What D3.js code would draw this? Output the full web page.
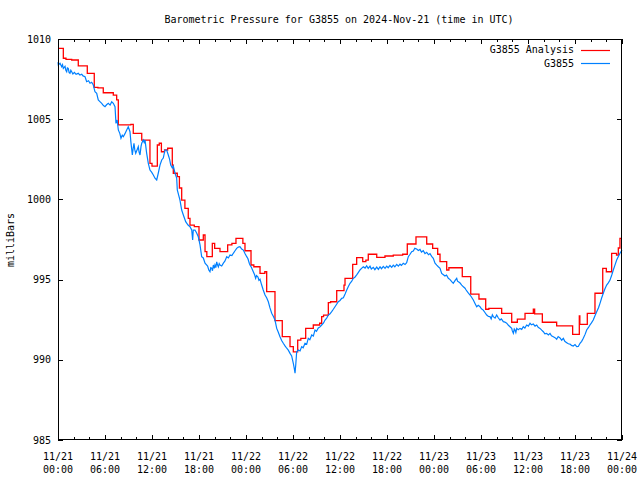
<!DOCTYPE html>
<html><head><meta charset="utf-8">
<script src="https://cdn.jsdelivr.net/npm/d3@7"></script>
<style>
body{margin:0;background:#fff}
text{font-family:"DejaVu Sans Mono",monospace;font-size:10px;fill:#000}
</style>
</head><body><svg id="c" width="640" height="480"></svg>
<script>
const chartTitle = "Barometric Pressure for G3855 on 2024-Nov-21 (time in UTC)";
const yAxisLabel = "milliBars";
const seriesNames = ["G3855 Analysis", "G3855"];
const seriesColors = ["#ff0000", "#0080ff"];
const xTickHours = [0, 6, 12, 18, 24, 30, 36, 42, 48, 54, 60, 66, 72];
const xTickDates = ["11/21","11/21","11/21","11/21","11/22","11/22","11/22","11/22","11/23","11/23","11/23","11/23","11/24"];
const xTickTimes = ["00:00","06:00","12:00","18:00","00:00","06:00","12:00","18:00","00:00","06:00","12:00","18:00","00:00"];
const xMinorHours = d3.range(0, 73, 2);
const yTicks = [985, 990, 995, 1000, 1005, 1010];

// hours since 11/21 00:00 UTC, pressure (mb)
const analysis = [[0,1009.42],[0.68,1008.80],[1.02,1008.73],[1.75,1008.69],[2.59,1008.32],[3.74,1007.86],[4.63,1006.99],[5.1,1006.95],[5.78,1006.65],[7.06,1006.50],[7.49,1006.20],[7.70,1004.64],[9.3,1004.68],[9.61,1004.12],[10.69,1003.70],[11.74,1002.25],[12.0,1002.08],[12.68,1003.39],[12.93,1003.50],[13.2,1002.97],[13.6,1003.08],[14.0,1003.19],[14.59,1002.14],[14.72,1001.63],[15.23,1001.42],[15.5,1000.71],[15.79,999.96],[16.2,999.44],[16.63,998.82],[16.85,998.40],[17.4,998.30],[18.0,997.47],[18.55,997.78],[18.77,996.74],[19.0,996.43],[19.7,997.26],[20.0,996.95],[20.68,996.74],[21.66,997.16],[22.2,997.26],[22.72,997.57],[23.6,997.26],[23.87,996.80],[24.64,995.91],[25.0,995.80],[25.79,995.39],[26.4,995.49],[26.64,994.25],[27.7,992.44],[28.63,991.44],[29.62,990.82],[30.04,990.50],[30.6,991.23],[31.0,991.34],[31.62,991.96],[32.59,992.17],[33.4,992.28],[33.66,992.69],[33.9,992.79],[34.51,993.56],[34.8,993.62],[35.58,994.31],[36.51,994.66],[36.64,995.08],[37.62,995.95],[38.13,996.37],[38.9,996.12],[39.3,996.22],[39.61,996.58],[40.69,996.39],[41.74,996.47],[42.8,996.53],[44.0,996.58],[44.59,997.22],[45.7,997.66],[47.07,997.22],[47.83,996.95],[48.47,996.58],[48.77,996.12],[49.62,995.60],[49.9,995.74],[51.61,995.18],[52.69,994.10],[53.74,993.79],[54.6,993.15],[55.0,993.21],[56.64,992.90],[57.92,992.34],[58.64,992.54],[59.62,992.90],[60.68,993.15],[60.85,992.86],[61.83,992.34],[63.66,992.11],[65.7,991.59],[66.55,992.73],[66.62,992.21],[67.57,992.90],[68.55,994.15],[69.54,995.70],[70.0,995.49],[70.68,996.64],[71.3,996.53],[71.53,996.97],[71.74,997.57],[72,997.57]];

const observed = [[0,1008.55],[0.04,1008.38],[0.26,1008.49],[0.47,1008.27],[0.58,1008.40],[0.68,1008.17],[0.9,1008.3],[1.0,1008.05],[1.11,1007.96],[1.2,1008.20],[1.31,1008.17],[1.42,1007.90],[1.53,1007.86],[1.64,1008.05],[1.75,1007.96],[1.9,1007.82],[2.1,1007.92],[2.3,1007.80],[2.59,1007.86],[2.8,1007.75],[3.03,1007.80],[3.2,1007.70],[3.45,1007.65],[3.66,1007.34],[3.9,1007.40],[4.09,1007.24],[4.3,1007.30],[4.51,1007.13],[4.72,1006.71],[4.94,1006.61],[5.14,1006.20],[5.35,1006.10],[5.58,1005.99],[5.8,1005.85],[6.0,1005.78],[6.2,1005.90],[6.42,1005.99],[6.65,1005.88],[6.86,1006.09],[7.06,1005.99],[7.28,1005.78],[7.40,1004.74],[7.55,1004.95],[7.70,1004.33],[7.9,1004.10],[8.04,1003.81],[8.2,1004.00],[8.34,1003.91],[8.55,1004.10],[8.77,1004.33],[8.97,1004.53],[9.19,1004.22],[9.3,1003.60],[9.49,1002.77],[9.6,1003.20],[9.70,1003.50],[9.8,1003.10],[9.92,1002.87],[10.1,1003.10],[10.25,1003.29],[10.35,1002.95],[10.47,1002.77],[10.6,1003.30],[10.69,1003.50],[10.89,1003.70],[11.0,1003.55],[11.11,1003.70],[11.32,1002.87],[11.53,1002.25],[11.74,1001.83],[11.95,1001.70],[12.17,1001.52],[12.38,1001.32],[12.6,1001.21],[12.8,1001.63],[13.02,1002.14],[13.24,1002.46],[13.44,1002.58],[13.66,1003.08],[13.87,1003.08],[14.08,1002.77],[14.25,1002.50],[14.39,1002.14],[14.59,1001.96],[14.72,1002.08],[14.94,1001.63],[15.15,1001.33],[15.23,1000.59],[15.57,999.96],[15.79,999.34],[16.0,999.03],[16.3,998.61],[16.6,998.40],[16.85,998.30],[17.07,998.09],[17.19,997.47],[17.27,998.09],[17.49,998.09],[17.7,997.91],[17.91,997.67],[18.13,997.16],[18.34,996.43],[18.55,996.35],[18.77,996.02],[19.1,995.85],[19.25,995.60],[19.4,995.49],[19.5,995.75],[19.62,995.72],[19.72,995.55],[19.83,995.91],[19.95,995.70],[20.04,995.91],[20.15,995.75],[20.26,996.10],[20.37,995.90],[20.47,995.79],[20.58,996.00],[20.68,995.91],[20.9,995.85],[21.11,996.03],[21.3,996.15],[21.54,996.43],[21.75,996.35],[21.96,996.53],[22.2,996.50],[22.38,996.64],[22.6,996.80],[22.81,996.95],[23.02,997.03],[23.23,997.05],[23.45,996.90],[23.66,996.84],[23.9,996.60],[24.09,996.43],[24.25,996.30],[24.42,996.02],[24.51,995.91],[24.7,995.75],[24.93,995.49],[25.1,995.30],[25.23,995.08],[25.35,995.25],[25.53,995.16],[25.65,994.95],[25.79,995.02],[26.0,994.66],[26.2,994.35],[26.43,994.04],[26.65,993.85],[26.85,993.62],[27.05,993.25],[27.28,992.90],[27.5,992.70],[27.7,992.48],[27.92,991.96],[28.1,991.75],[28.34,991.44],[28.55,991.20],[28.76,991.03],[29.0,990.85],[29.2,990.72],[29.4,990.60],[29.62,990.40],[29.83,990.24],[30.04,989.78],[30.15,989.50],[30.26,989.16],[30.35,989.68],[30.47,990.50],[30.68,990.61],[30.9,990.55],[31.11,990.82],[31.3,990.75],[31.53,991.03],[31.75,990.98],[31.95,991.34],[32.15,991.25],[32.39,991.55],[32.6,991.48],[32.81,991.86],[33.0,991.78],[33.23,991.98],[33.45,992.05],[33.66,992.17],[33.9,992.30],[34.09,992.48],[34.3,992.60],[34.51,992.79],[34.7,992.85],[34.94,993.0],[35.15,993.15],[35.36,993.31],[35.55,993.45],[35.78,993.62],[36.0,993.70],[36.22,993.83],[36.43,993.87],[36.65,994.10],[36.86,994.35],[37.05,994.55],[37.28,994.77],[37.5,994.90],[37.7,995.08],[37.9,995.15],[38.13,995.29],[38.35,995.45],[38.55,995.60],[38.75,995.70],[38.98,995.80],[39.2,995.72],[39.4,995.86],[39.6,995.70],[39.83,995.84],[40.0,995.66],[40.25,995.76],[40.45,995.62],[40.69,995.78],[40.9,995.64],[41.11,995.80],[41.3,995.68],[41.53,995.82],[41.75,995.70],[41.96,995.84],[42.15,995.74],[42.38,995.88],[42.6,995.76],[42.8,995.90],[43.0,995.80],[43.24,995.95],[43.45,995.84],[43.66,995.96],[43.85,995.88],[44.08,996.02],[44.3,995.94],[44.51,996.06],[44.72,996.43],[44.9,996.55],[45.15,996.74],[45.36,996.78],[45.55,996.95],[45.79,996.91],[46.0,996.82],[46.21,996.88],[46.4,996.72],[46.63,996.80],[46.85,996.62],[47.07,996.70],[47.3,996.55],[47.49,996.62],[47.7,996.45],[47.91,996.33],[48.13,996.02],[48.35,995.90],[48.55,995.80],[48.77,995.70],[48.98,995.39],[49.2,995.30],[49.4,995.22],[49.6,995.28],[49.83,995.08],[50.05,995.00],[50.26,994.87],[50.46,994.77],[50.7,994.95],[50.9,995.08],[51.0,994.90],[51.11,994.87],[51.3,994.80],[51.54,994.66],[51.75,994.55],[51.96,994.46],[52.1,994.35],[52.25,994.25],[52.4,994.15],[52.6,994.04],[52.8,993.90],[53.02,993.73],[53.25,993.50],[53.45,993.31],[53.65,993.40],[53.87,993.31],[54.05,993.18],[54.29,993.10],[54.5,992.95],[54.73,992.79],[54.95,992.70],[55.15,992.69],[55.3,992.55],[55.45,992.80],[55.57,992.69],[55.8,992.60],[56.0,992.79],[56.2,992.62],[56.43,992.48],[56.6,992.55],[56.85,992.38],[57.05,992.35],[57.28,992.28],[57.5,992.15],[57.7,992.06],[57.92,991.96],[58.0,991.80],[58.13,991.65],[58.25,991.92],[58.34,991.86],[58.45,991.70],[58.56,991.96],[58.75,991.88],[58.98,991.96],[59.2,991.90],[59.4,992.06],[59.6,991.98],[59.83,992.17],[60.05,992.10],[60.26,992.28],[60.45,992.18],[60.68,992.23],[60.9,992.10],[61.11,992.17],[61.3,992.02],[61.53,991.96],[61.75,991.85],[61.96,991.75],[62.15,991.62],[62.38,991.65],[62.6,991.55],[62.81,991.65],[63.0,991.50],[63.23,991.44],[63.45,991.38],[63.66,991.28],[63.85,991.45],[64.09,991.36],[64.3,991.22],[64.51,991.34],[64.7,991.15],[64.94,991.07],[65.15,991.00],[65.36,990.98],[65.55,990.90],[65.78,990.86],[66.0,990.95],[66.22,990.82],[66.42,990.83],[66.64,991.03],[66.85,991.15],[67.06,991.34],[67.3,991.60],[67.49,991.86],[67.7,992.00],[67.91,992.17],[68.1,992.30],[68.33,992.48],[68.55,992.75],[68.77,993.0],[69.0,993.25],[69.19,993.52],[69.4,993.85],[69.61,994.15],[69.8,994.40],[70.04,994.66],[70.25,994.80],[70.47,994.97],[70.7,995.30],[70.89,995.60],[71.1,995.90],[71.32,996.22],[71.55,996.45],[71.74,996.64],[72,996.84]];

const L = 58, R = 622, T = 39, B = 440;
const svg = d3.select("#c");
svg.append("rect").attr("width",640).attr("height",480).attr("fill","#fff");

const x = d3.scaleLinear().domain([0, 72]).range([L, R]);
const y = d3.scaleLinear().domain([985, 1010]).range([B, T]);

// series
const lineStep = d3.line().x(d => x(d[0])).y(d => y(d[1])).curve(d3.curveStepAfter);
const lineLin = d3.line().x(d => x(d[0])).y(d => y(d[1]));
svg.append("path").datum(analysis).attr("d", lineStep)
  .attr("fill","none").attr("stroke",seriesColors[0]).attr("stroke-width",1.3);
svg.append("path").datum(observed).attr("d", lineLin)
  .attr("fill","none").attr("stroke",seriesColors[1]).attr("stroke-width",1.2);

// axes (ticks inward, mirrored)
function styleAxis(g){ g.select(".domain").remove(); g.selectAll("line").attr("stroke","#000").attr("shape-rendering","crispEdges"); g.selectAll("text").remove(); }
svg.append("g").attr("transform",`translate(0,${B})`).call(d3.axisBottom(x).tickValues(xMinorHours).tickSizeInner(-3).tickSizeOuter(0).tickFormat("")).call(styleAxis);
svg.append("g").attr("transform",`translate(0,${T})`).call(d3.axisTop(x).tickValues(xMinorHours).tickSizeInner(-3).tickSizeOuter(0).tickFormat("")).call(styleAxis);
svg.append("g").attr("transform",`translate(0,${B})`).call(d3.axisBottom(x).tickValues(xTickHours).tickSizeInner(-5).tickSizeOuter(0).tickFormat("")).call(styleAxis);
svg.append("g").attr("transform",`translate(0,${T})`).call(d3.axisTop(x).tickValues(xTickHours).tickSizeInner(-5).tickSizeOuter(0).tickFormat("")).call(styleAxis);
svg.append("g").attr("transform",`translate(${L},0)`).call(d3.axisLeft(y).tickValues(yTicks).tickSizeInner(-5).tickSizeOuter(0).tickFormat("")).call(styleAxis);
svg.append("g").attr("transform",`translate(${R},0)`).call(d3.axisRight(y).tickValues(yTicks).tickSizeInner(-5).tickSizeOuter(0).tickFormat("")).call(styleAxis);

// frame
svg.append("rect").attr("x",L+0.5).attr("y",T+0.5).attr("width",R-L-1).attr("height",B-T-1)
  .attr("fill","none").attr("stroke","#000").attr("stroke-width",1).attr("shape-rendering","crispEdges");

// tick labels
svg.selectAll(".yl").data(yTicks).enter().append("text")
  .attr("x", 51).attr("y", d => y(d)).attr("dy","0.36em").attr("text-anchor","end").text(d => d);
svg.selectAll(".xl1").data(xTickHours).enter().append("text")
  .attr("x", d => x(d)).attr("y", 460).attr("text-anchor","middle").text((d,i) => xTickDates[i]);
svg.selectAll(".xl2").data(xTickHours).enter().append("text")
  .attr("x", d => x(d)).attr("y", 473).attr("text-anchor","middle").text((d,i) => xTickTimes[i]);

// title & y label
svg.append("text").attr("x",339).attr("y",23).attr("text-anchor","middle").text(chartTitle);
svg.append("text").attr("transform","translate(14,240) rotate(-90)").attr("text-anchor","middle").text(yAxisLabel);

// legend
seriesNames.forEach((n,i) => {
  const yy = 49.5 + i*13.5;
  svg.append("text").attr("x",574).attr("y",yy).attr("dy","0.36em").attr("text-anchor","end").text(n);
  svg.append("line").attr("x1",581).attr("x2",610).attr("y1",Math.round(yy)+0.5).attr("y2",Math.round(yy)+0.5)
    .attr("stroke",seriesColors[i]).attr("stroke-width",1.2);
});
</script>
</body></html>
